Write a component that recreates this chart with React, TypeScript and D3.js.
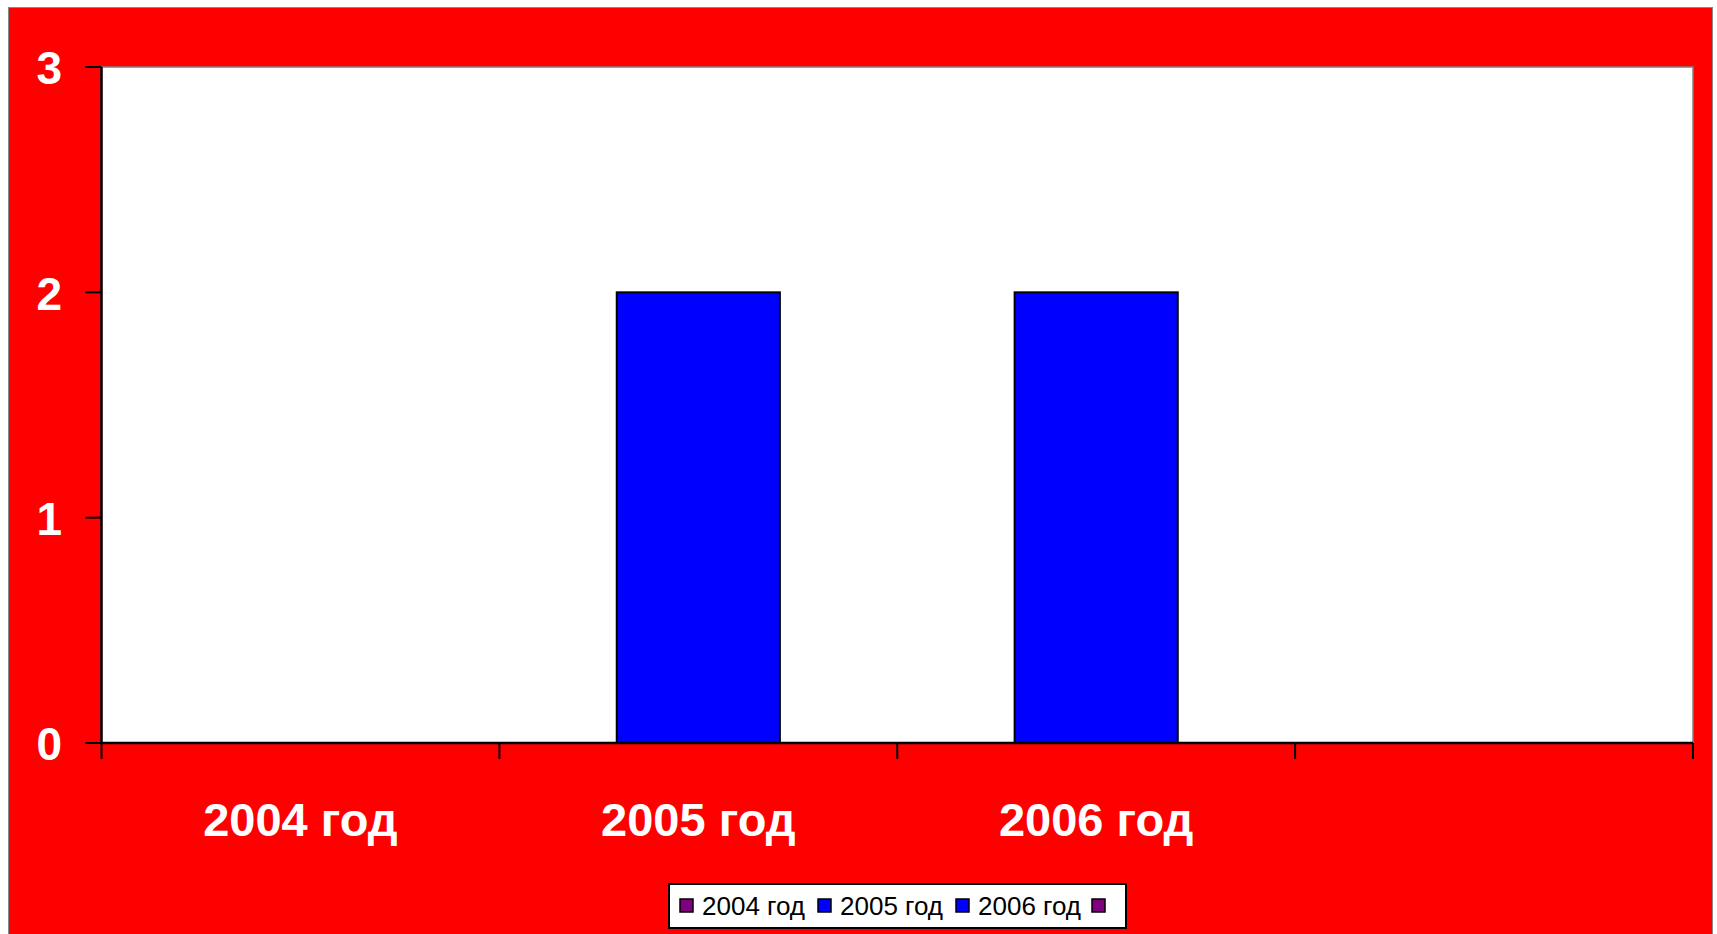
import React from "react";
import * as d3 from "d3";

const categories = ["2004 год", "2005 год", "2006 год", ""];
const values = [0, 2, 2, 0];
const pointColors = ["#800080", "#0000FF", "#0000FF", "#800080"];
const yTicks = [0, 1, 2, 3];

const W = 1717;
const H = 934;
const plot = { left: 101.5, right: 1693, top: 67, bottom: 743 };

export default function App() {
  const x = d3
    .scaleBand<string>()
    .domain(categories.map((c, i) => String(i)))
    .range([plot.left, plot.right])
    .paddingInner(0)
    .paddingOuter(0);
  const y = d3.scaleLinear().domain([0, 3]).range([plot.bottom, plot.top]);
  const bw = x.bandwidth();
  const barW = bw * 0.41;
  const tickXs = categories.map((_, i) => x(String(i)) as number).concat([plot.right]);

  const font = "Arial, 'Liberation Sans', sans-serif";
  const legendItems = categories.map((c, i) => ({ label: c, color: pointColors[i] }));

  // legend layout
  const legX = 669;
  const legY = 884;
  const legW = 457;
  const legH = 44;
  const legendPos = [680, 818, 956, 1092];

  return (
    <svg
      width={W}
      height={H}
      style={{ position: "absolute", left: 0, top: 0, display: "block" }}
    >
      <rect x={0} y={0} width={W} height={H} fill="#ffffff" />
      <rect x={8.5} y={7.5} width={1704} height={930} fill="#ff0000" stroke="#8a8a8a" strokeWidth={1} />
      {/* plot area */}
      <rect
        x={plot.left}
        y={plot.top}
        width={plot.right - plot.left}
        height={plot.bottom - plot.top}
        fill="#ffffff"
        stroke="#808080"
        strokeWidth={1.5}
      />
      {/* bars */}
      {values.map((v, i) => {
        const cx = (x(String(i)) as number) + bw / 2;
        if (v <= 0) return null;
        return (
          <rect
            key={i}
            x={cx - barW / 2}
            y={y(v)}
            width={barW}
            height={y(0) - y(v)}
            fill={pointColors[i]}
            stroke="#000000"
            strokeWidth={2}
          />
        );
      })}
      {/* y axis */}
      <line x1={plot.left} x2={plot.left} y1={plot.top} y2={plot.bottom} stroke="#000" strokeWidth={2.5} />
      {yTicks.map((t) => (
        <g key={t}>
          <line x1={plot.left - 16} x2={plot.left} y1={y(t)} y2={y(t)} stroke="#000" strokeWidth={2} />
          <text
            x={62}
            y={y(t)}
            dy="0.38em"
            textAnchor="end"
            fill="#ffffff"
            fontFamily={font}
            fontWeight="bold"
            fontSize={46}
          >
            {t}
          </text>
        </g>
      ))}
      {/* x axis */}
      <line x1={plot.left} x2={plot.right} y1={plot.bottom} y2={plot.bottom} stroke="#000" strokeWidth={2.5} />
      {tickXs.map((tx, i) => (
        <line key={i} x1={tx} x2={tx} y1={plot.bottom} y2={plot.bottom + 16} stroke="#000" strokeWidth={2} />
      ))}
      {categories.map((c, i) => (
        <text
          key={i}
          x={(x(String(i)) as number) + bw / 2}
          y={836}
          textAnchor="middle"
          fill="#ffffff"
          fontFamily={font}
          fontWeight="bold"
          fontSize={47}
        >
          {c}
        </text>
      ))}
      {/* legend */}
      <rect x={legX} y={legY} width={legW} height={legH} fill="#ffffff" stroke="#000" strokeWidth={2} />
      {legendItems.map((it, i) => (
        <g key={i}>
          <rect
            x={legendPos[i]}
            y={legY + 15}
            width={13}
            height={13}
            fill={it.color}
            stroke="#000"
            strokeWidth={1.5}
          />
          <text x={legendPos[i] + 22} y={legY + 31} fill="#000" fontFamily={font} fontSize={26}>
            {it.label}
          </text>
        </g>
      ))}
    </svg>
  );
}
